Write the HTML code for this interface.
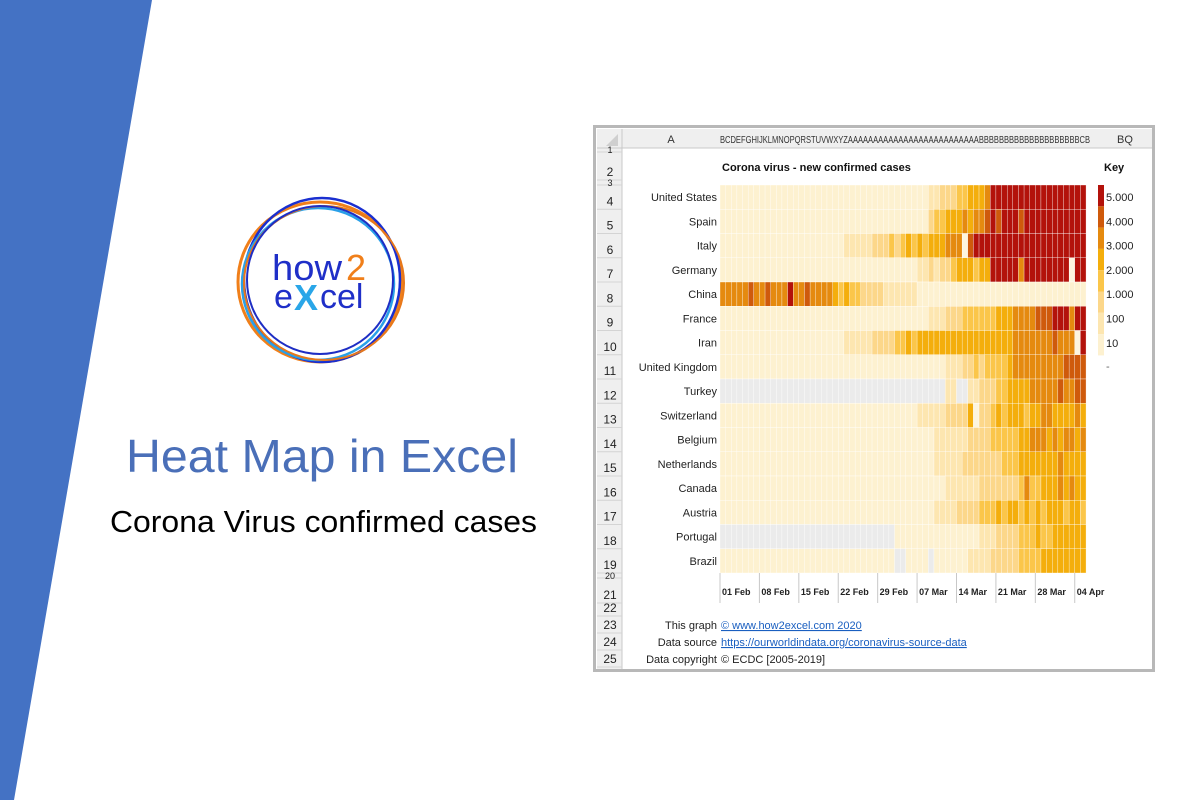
<!DOCTYPE html>
<html><head><meta charset="utf-8"><style>
html,body{margin:0;padding:0;background:#fff;width:1200px;height:800px;overflow:hidden;font-family:"Liberation Sans",sans-serif}
</style></head><body>
<svg width="1200" height="800" xmlns="http://www.w3.org/2000/svg" font-family="Liberation Sans, sans-serif">
<polygon points="0,0 152,0 14,800 0,800" fill="#4472c4"/>
<!-- logo -->
<g fill="none">
<ellipse cx="320" cy="282" rx="82" ry="80" stroke="#f07f1a" stroke-width="3"/>
<ellipse cx="322" cy="280" rx="78" ry="82" stroke="#1a2fd0" stroke-width="2.5"/>
<ellipse cx="318" cy="284" rx="76" ry="76" stroke="#2aa0e8" stroke-width="2.5"/>
<ellipse cx="324" cy="283" rx="80" ry="77" stroke="#e8781a" stroke-width="2"/>
<ellipse cx="320" cy="280" rx="73" ry="74" stroke="#1e2ec4" stroke-width="2"/>
</g>
<text x="272" y="280" font-size="36" fill="#1f2fc8" textLength="70" lengthAdjust="spacingAndGlyphs">how</text>
<text x="346" y="280" font-size="36" fill="#f07f1a">2</text>
<text x="274" y="308" font-size="34" fill="#1f2fc8">e</text>
<text x="294" y="310" font-size="36" font-weight="bold" fill="#2aa6e8">X</text>
<text x="320" y="308" font-size="34" fill="#1f2fc8">cel</text>
<text x="126" y="472" font-size="46" fill="#4a6fb8" textLength="392" lengthAdjust="spacingAndGlyphs">Heat Map in Excel</text>
<text x="110" y="532" font-size="31" fill="#000" textLength="427" lengthAdjust="spacingAndGlyphs">Corona Virus confirmed cases</text>
<!-- sheet -->
<rect x="593" y="125" width="562" height="547" fill="#b8b8b8"/>
<rect x="596" y="128" width="556" height="541" fill="#fff"/>
<rect x="597" y="129" width="555" height="19" fill="#efefef"/>
<rect x="597" y="129" width="25" height="540" fill="#efefef"/>
<line x1="622" y1="129" x2="622" y2="669" stroke="#c8c8c8"/>
<line x1="597" y1="148" x2="1152" y2="148" stroke="#c8c8c8"/>
<polygon points="618,134 618,146 606,146" fill="#cfcfcf"/>
<text x="671" y="143" font-size="11" text-anchor="middle" fill="#333">A</text>
<text x="720" y="143" font-size="10" fill="#333" textLength="370" lengthAdjust="spacingAndGlyphs">BCDEFGHIJKLMNOPQRSTUVWXYZAAAAAAAAAAAAAAAAAAAAAAAAAABBBBBBBBBBBBBBBBBBBBCB</text>
<text x="1125" y="143" font-size="11" text-anchor="middle" fill="#333">BQ</text>
<g id="rows" font-size="12" fill="#222" text-anchor="middle"></g>
<text x="722" y="171" font-size="11" font-weight="bold" fill="#111">Corona virus - new confirmed cases</text>
<text x="1104" y="171" font-size="11" font-weight="bold" fill="#111">Key</text>
<g id="hm"></g>
<g id="names" font-size="11" fill="#222" text-anchor="end"></g>
<g id="key"></g>
<g id="ticks" font-size="9" font-weight="bold" fill="#222"></g>
<g font-size="11" fill="#222">
<text x="717" y="629" text-anchor="end">This graph</text>
<text x="721" y="629" fill="#1a5fc0" text-decoration="underline">© www.how2excel.com 2020</text>
<text x="717" y="646" text-anchor="end">Data source</text>
<text x="721" y="646" fill="#1a5fc0" text-decoration="underline">https://ourworldindata.org/coronavirus-source-data</text>
<text x="717" y="663" text-anchor="end">Data copyright</text>
<text x="721" y="663">© ECDC [2005-2019]</text>
</g>
</svg>
<script>
var NS="http://www.w3.org/2000/svg";
function el(p,t,a,txt){var e=document.createElementNS(NS,t);for(var k in a)e.setAttribute(k,a[k]);if(txt!=null)e.textContent=txt;p.appendChild(e);return e;}
var C={"0":"#fdf1d0","1":"#fde6b0","2":"#fcd78a","3":"#fbc64a","4":"#f4ae0c","5":"#e58a0f","6":"#cf5a0c","7":"#b3120b","g":"#ebebeb","w":"#fdf5df"};
function z(n,c){return Array(n+1).join(c||"0");}
var data=[
["United States",z(37)+"112223"+"34445"+z(17,"7")],
["Spain",z(37)+"23344"+"45455"+"6"+"76777677777777777"],
["Italy",z(22)+"11111"+"22232"+"34343444"+"555"+"w"+"6"+z(20,"7")],
["Germany",z(35)+"112122"+"3444344"+"77777"+"5"+"77777777"+"w"+"77"],
["China","555556556555"+"7"+"5565555"+"434"+"3322221"+"11111"+z(30)],
["France",z(37)+"1112"+"2233333344"+"4"+"555566"+"6777"+"5"+"77"],
["Iran",z(22)+"11111"+"22223"+"3434444444"+"4444444444"+"55555556555"+"w"+"7"],
["United Kingdom",z(40)+"111"+"2232333"+"3"+"4555555555"+"6666"],
["Turkey",z(40,"g")+"11"+"gg"+"11222"+"334444"+"5555565566"],
["Switzerland",z(35)+"11111"+"2222"+"4"+"w"+"22"+"3434443"+"4455444454"],
["Belgium",z(38)+"1111112"+"2223333"+"34455"+"54545545"],
["Netherlands",z(38)+"1111122"+"2222233"+"34444"+"44454444"],
["Canada",z(40)+"111111"+"222222"+"23"+"5"+"3344454544"],
["Austria",z(38)+"111122"+"2233"+"3434"+"43"+"4343444344"+"3"],
["Portugal",z(31,"g")+z(15)+"1112222"+"3334334"+"44444"],
["Brazil",z(31)+"gg"+"0000"+"g"+z(6)+"111122"+"22233"+"3344444444"]
];
var hm=document.getElementById("hm"),nm=document.getElementById("names");
var x0=720,cw=366/65,y0=185,rh=24.25;
data.forEach(function(r,i){
  var y=y0+i*rh;
  el(nm,"text",{x:717,y:y+16},r[0]);
  for(var j=0;j<65;j++){var c=r[1][j]||"0";
    el(hm,"rect",{x:(x0+j*cw).toFixed(2),y:y.toFixed(2),width:(cw+0.05).toFixed(2),height:rh,fill:C[c],stroke:"#fff","stroke-width":0.35});}
});
var rows=document.getElementById("rows");
var rr=[[1,148,152],[2,152,180],[3,180,185]];
for(var i=0;i<16;i++)rr.push([4+i,y0+i*rh,y0+(i+1)*rh]);
rr=rr.concat([[20,573,578],[21,578,603],[22,603,616],[23,616,633],[24,633,650],[25,650,667]]);
rr.forEach(function(r){
  var h=r[2]-r[1];
  el(rows,"line",{x1:597,y1:r[2],x2:622,y2:r[2],stroke:"#d4d4d4"});
  var cy=h<8?r[2]+1:r[2]-4;
  el(rows,"text",{x:610,y:cy,"font-size":h<8?9:12},String(r[0]));
});
var key=document.getElementById("key"),kc=["7","6","5","4","3","2","1","0"],kl=["5.000","4.000","3.000","2.000","1.000","100","10"];
for(var k=0;k<8;k++){el(key,"rect",{x:1098,y:185+k*21.3,width:6,height:21.3,fill:C[kc[k]]});}
kl.forEach(function(t,k){el(key,"text",{x:1106,y:201+k*24.3,"font-size":11,fill:"#222"},t);});
el(key,"text",{x:1106,y:370,"font-size":11,fill:"#666"},"-");
var tk=document.getElementById("ticks"),lb=["01 Feb","08 Feb","15 Feb","22 Feb","29 Feb","07 Mar","14 Mar","21 Mar","28 Mar","04 Apr"];
lb.forEach(function(t,i){var x=x0+i*7*cw;
  el(tk,"line",{x1:x,y1:573,x2:x,y2:603,stroke:"#c8c8c8"});
  el(tk,"text",{x:x+2,y:595},t);});
</script>
</body></html>
